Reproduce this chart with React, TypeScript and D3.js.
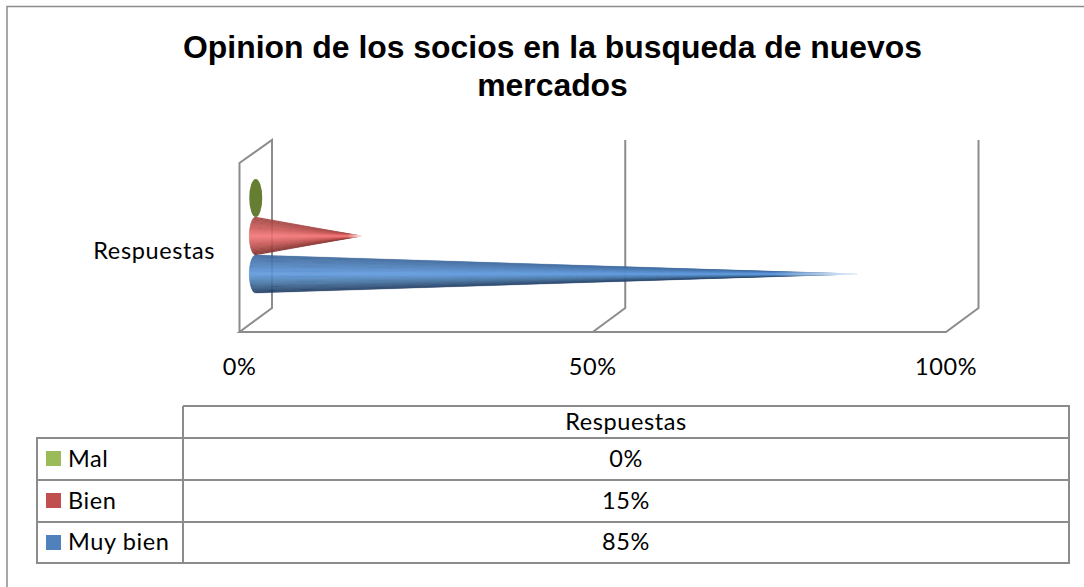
import React from "react";
import * as d3 from "d3";

const title = ["Opinion de los socios en la busqueda de nuevos", "mercados"];
const categories = ["Mal", "Bien", "Muy bien"];
const values = [0, 15, 85];
const seriesName = "Respuestas";
const ticks = [0, 50, 100];
const swatchColors = ["#9bbb59", "#c0504d", "#4f81bd"];
const coneStops = [
  ["#667e32", "#667e32", "#667e32", "#667e32", "#667e32"],
  ["#a04543", "#c95a58", "#f4777a", "#c25553", "#7f2f2d"],
  ["#3a6598", "#4f81bd", "#5f9ade", "#44719f", "#1f3a60"],
];
const shadeDomain = [-1, -0.45, 0, 0.5, 1];

const W = 1084, H = 587;
const LINE = "#8c8c8c";
const DX = 32.5, DY = 24;
const x = d3.scaleLinear().domain([0, 100]).range([239.5, 946]);
const y = d3.scaleBand<string>().domain(categories).range([179, 293]);
const floorY = 332, wallTopY = 163;
const RX = 6.5;
const tableLeft = 37, tableMid = 183, tableRight = 1069;
const rowLines = [406, 438, 480, 522, 563];

function Cone({ i }: { i: number }) {
  const v = values[i];
  const cy = y(categories[i])! + y.bandwidth() / 2;
  const ry = y.bandwidth() / 2;
  const cx = x(0) + DX / 2;
  const stops = coneStops[i];
  const color = d3.scaleLinear<string>().domain(shadeDomain).range(stops);
  if (v === 0) return <ellipse cx={cx} cy={cy} rx={RX} ry={ry} fill={stops[2]} />;
  const tipX = x(v) + DX / 2;
  const strips = d3.range(-1, 1, 1 / 24).sort((a, b) => Math.abs(b + 1 / 48) - Math.abs(a + 1 / 48));
  const edge = (t: number): [number, number] => [cx - RX * Math.sqrt(Math.max(0, 1 - t * t)), cy + t * ry];
  const fadeStart = tipX - (tipX - cx) * 0.14;
  return (
    <g mask={`url(#fade${i})`}>
      <defs>
        <linearGradient id={`fadeg${i}`} gradientUnits="userSpaceOnUse" x1={fadeStart} x2={tipX} y1={0} y2={0}>
          <stop offset="0" stopColor="#fff" />
          <stop offset="1" stopColor="#fff" stopOpacity={0.15} />
        </linearGradient>
        <mask id={`fade${i}`} maskUnits="userSpaceOnUse" x={0} y={0} width={W} height={H}>
          <rect x={0} y={0} width={W} height={H} fill={`url(#fadeg${i})`} />
        </mask>
      </defs>
      {strips.map((t) => {
        const t2 = Math.min(1, t + 1 / 24);
        const a = edge(t), b = edge(t2);
        const c = color((t + t2) / 2);
        return <path key={t} d={`M${a}L${b}L${tipX},${cy}Z`} fill={c} stroke={c} strokeWidth={0.3} strokeLinejoin="bevel" />;
      })}
    </g>
  );
}

export default function App() {
  const font = "Lato, 'Noto Sans', sans-serif";
  const textProps = { fontFamily: font, fontSize: 23.5, letterSpacing: 0.6, fill: "#000" };
  const t0 = x(0), t100 = x(100);
  return (
    <svg width={W} height={H} style={{ position: "absolute", left: 0, top: 0, background: "#fff" }}>
      <path d={`M${W},6.5H7V${H}`} fill="none" stroke={LINE} strokeWidth={1.5} />
      {title.map((s, i) => (
        <text key={i} x={552.5} y={58 + i * 38} textAnchor="middle" fontFamily="'Liberation Sans', Arial, sans-serif" fontWeight="bold" fontSize={31.9} fill="#000">{s}</text>
      ))}
      <g fill="none" stroke={LINE} strokeWidth={2}>
        <path d={`M${t0},${floorY}V${wallTopY}L${t0 + DX},${wallTopY - DY + 1}V${floorY - DY}L${t0},${floorY}H${t100}L${t100 + DX},${floorY - DY}V${wallTopY - DY + 1}`} />
        <path d={`M${x(50)},${floorY}L${x(50) + DX},${floorY - DY}V${wallTopY - DY + 1}`} />
      </g>
      {categories.map((_, i) => <Cone key={i} i={i} />)}
      <text x={215} y={259} textAnchor="end" {...textProps}>{seriesName}</text>
      {ticks.map((t) => (
        <text key={t} x={x(t)} y={375} textAnchor="middle" {...textProps}>{t}%</text>
      ))}
      <g fill="none" stroke={LINE} strokeWidth={2}>
        <path d={`M${tableMid},${rowLines[0]}H${tableRight}V${rowLines[4]}H${tableLeft}V${rowLines[1]}H${tableRight}`} />
        <path d={`M${tableMid},${rowLines[0]}V${rowLines[4]}`} />
        <path d={`M${tableLeft},${rowLines[2]}H${tableRight}M${tableLeft},${rowLines[3]}H${tableRight}`} />
      </g>
      <text x={626} y={430} textAnchor="middle" {...textProps}>{seriesName}</text>
      {categories.map((c, i) => (
        <g key={c}>
          <rect x={46} y={rowLines[i + 1] + 13} width={15} height={15} fill={swatchColors[i]} />
          <text x={68} y={rowLines[i + 1] + 29 - i * 0.5} {...textProps}>{c}</text>
          <text x={626} y={rowLines[i + 1] + 29 - i * 0.5} textAnchor="middle" {...textProps}>{values[i]}%</text>
        </g>
      ))}
    </svg>
  );
}
